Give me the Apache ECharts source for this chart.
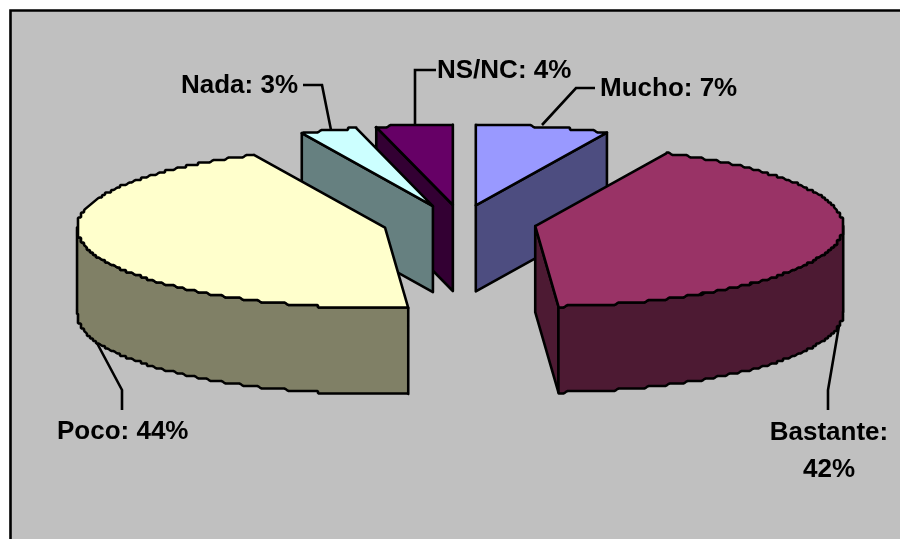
<!DOCTYPE html>
<html>
<head>
<meta charset="utf-8">
<style>html,body{margin:0;padding:0;background:#fff}#c{width:900px;height:539px}</style>
<script src="https://cdn.jsdelivr.net/npm/echarts@6/dist/echarts.min.js"></script>
</head>
<body>
<div id="c"></div>
<script>
const categories = ['Mucho', 'Bastante', 'Poco', 'Nada', 'NS/NC'];
const percentValues = [7, 41.8, 44.2, 3, 4];
const topColors = ['#9999FF', '#993366', '#FFFFCC', '#CCFFFF', '#660066'];
const sideColors = ['#4D4D80', '#4D1A33', '#808066', '#668080', '#330033'];
const drawOrder = [4, 3, 0, 1, 2];

const PIE = {cx: 459, cy: 224.5, rx: 308, ry: 80.5, depth: 86, explode: 77,
  nudgeX: [0, 0.5, 0.5, 0, 3.5], nudgeY: [0.5, -2, -2, 0.5, 0.5]};
const LABELS = [
  {text: [600, 89], align: 'left', leader: [[542, 125], [576, 88], [595, 88]]},
  {text: [829, 451], align: 'center', multi: true, leader: [[840, 320], [828, 390], [828, 410]]},
  {text: [57, 432], align: 'left', leader: [[90, 330], [122, 390], [122, 410]]},
  {text: [181, 86], align: 'left', leader: [[331, 130], [322, 85], [303, 85]]},
  {text: [437, 71], align: 'left', leader: [[415, 125], [415, 70], [436, 70]]}
];

const total = percentValues.reduce((a, b) => a + b, 0);
const starts = [];
percentValues.reduce((acc, v, i) => { starts[i] = acc; return acc + v; }, 0);
const rad = p => p / total * Math.PI * 2;

// Outline roughened like the coarse vector rendering of the original.
function roughen(pts) {
  const st = [];
  pts.forEach(p => {
    const q = [Math.round(p[0] / 3) * 3, Math.round(p[1] / 2.5) * 2.5];
    const l = st[st.length - 1];
    if (!l || l[0] !== q[0] || l[1] !== q[1]) st.push(q);
  });
  const out = [pts[0]];
  for (let j = 0; j < st.length - 1; j++) {
    const a = st[j], b = st[j + 1];
    out.push([a[0] * .75 + b[0] * .25, a[1] * .75 + b[1] * .25]);
    out.push([a[0] * .25 + b[0] * .75, a[1] * .25 + b[1] * .75]);
  }
  out.push(pts[pts.length - 1]);
  return out;
}

function renderItem(params, api) {
  const i = api.value(0);
  const a0 = rad(starts[i]);
  const a1 = rad(starts[i] + percentValues[i]);
  const mid = (a0 + a1) / 2;
  const k = PIE.ry / PIE.rx;
  const ax = PIE.cx + PIE.explode * Math.sin(mid) + PIE.nudgeX[i];
  const ay = PIE.cy - PIE.explode * k * Math.cos(mid) + PIE.nudgeY[i];
  const at = a => [ax + PIE.rx * Math.sin(a), ay - PIE.ry * Math.cos(a)];
  const arc = (s, e) => {
    const n = Math.max(2, Math.ceil((e - s) * 120));
    const pts = [];
    for (let j = 0; j <= n; j++) pts.push(at(s + (e - s) * j / n));
    return roughen(pts);
  };
  const down = p => [p[0], p[1] + PIE.depth];
  const style = fill => ({fill, stroke: '#000', lineWidth: 2.6, lineJoin: 'round'});
  const poly = (points, fill) => ({type: 'polygon', shape: {points}, style: style(fill), silent: true});
  const children = [];
  const apex = [ax, ay];
  const p0 = at(a0), p1 = at(a1);
  if (a0 > Math.PI) children.push(poly([apex, p0, down(p0), down(apex)], sideColors[i]));
  if (a1 < Math.PI) children.push(poly([apex, p1, down(p1), down(apex)], sideColors[i]));
  const ws = Math.max(a0, Math.PI / 2), we = Math.min(a1, Math.PI * 1.5);
  if (we > ws) {
    const t = arc(ws, we);
    children.push(poly(t.concat(t.map(down).reverse()), sideColors[i]));
  }
  children.push(poly([apex].concat(arc(a0, a1)), topColors[i]));
  return {type: 'group', children};
}

function labelItem(params, api) {
  const i = api.value(0);
  const L = LABELS[i];
  const sep = L.multi ? ':\n' : ': ';
  return {type: 'group', children: [
    {type: 'polyline', shape: {points: L.leader}, silent: true,
      style: {fill: 'none', stroke: '#000', lineWidth: 2.6}},
    {type: 'text', x: L.text[0], y: L.text[1], silent: true,
      style: {text: categories[i] + sep + Math.round(percentValues[i]) + '%', fill: '#000',
        font: 'bold 26px "Liberation Sans", Arial, sans-serif',
        align: L.align, verticalAlign: 'middle', lineHeight: 37}}
  ]};
}

const chart = echarts.init(document.getElementById('c'), null, {renderer: 'canvas'});
chart.setOption({
  animation: false,
  backgroundColor: '#ffffff',
  graphic: [{
    type: 'rect', z: -10, silent: true,
    shape: {x: 10.5, y: 10.5, width: 1000, height: 1000},
    style: {fill: '#C0C0C0', stroke: '#000', lineWidth: 2.6}
  }],
  series: [
    {type: 'custom', coordinateSystem: 'none', renderItem, clip: false, silent: true,
      data: drawOrder.map(i => [i, percentValues[i]]), z: 2},
    {type: 'custom', coordinateSystem: 'none', renderItem: labelItem, clip: false, silent: true,
      data: categories.map((c, i) => [i, percentValues[i]]), z: 1}
  ]
});
</script>
</body>
</html>
